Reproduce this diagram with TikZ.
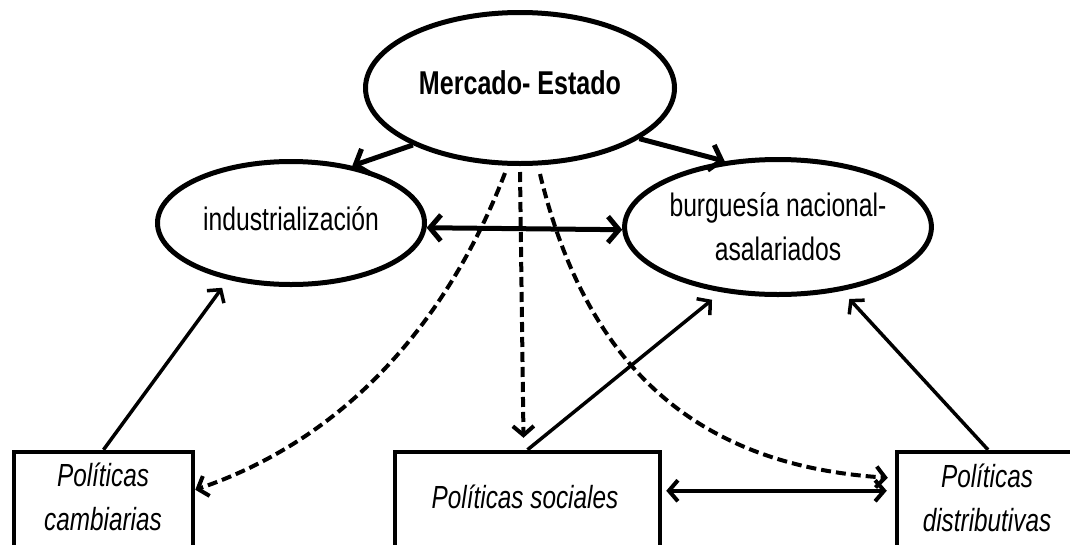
\documentclass[tikz,border=0pt]{standalone}
\usepackage{fontspec}
\setmainfont[FakeStretch=0.76]{Liberation Sans}
\usetikzlibrary{arrows.meta,shapes.geometric,calc}
\begin{document}
\begin{tikzpicture}[x=1pt,y=-1pt,
  bigbarb/.tip={Straight Barb[length=11pt,width=26pt]},
  smallbarb/.tip={Straight Barb[length=9pt,width=21pt]},
  oval/.style={ellipse, draw, line width=5pt, inner sep=0pt, align=center,
    font=\fontsize{32.5}{44}\selectfont},
  pbox/.style={rectangle, draw, line width=4.5pt, inner sep=0pt, minimum height=118pt},
  itxt/.style={inner sep=0pt, align=center, font=\itshape\fontsize{32}{44}\selectfont},
  thickarr/.style={line width=5pt, -bigbarb},
  thickdbl/.style={line width=5pt, bigbarb-bigbarb},
  thinarr/.style={line width=3.5pt, -smallbarb},
  thindbl/.style={line width=4pt, smallbarb-smallbarb},
  dasharr/.style={line width=4pt, dash pattern=on 10pt off 5pt, -smallbarb}
]
\useasboundingbox (0,0) rectangle (1070,544);
\clip (0,0) rectangle (1070,544);

% ellipses
\node[oval, minimum width=309pt, minimum height=151pt, text height=24pt, text depth=12pt,
      font=\bfseries\fontsize{33}{44}\selectfont] (ms) at (520,88) {Mercado- Estado};
\node[oval, minimum width=267pt, minimum height=123pt, text height=24pt, text depth=10pt]
      (ind) at (291,223) {industrialización};
\node[oval, minimum width=277pt, minimum height=135pt] (bur) at (778,227)
      {burguesía nacional-\\asalariados};

% boxes
\node[pbox, minimum width=179pt] (pc) at (103.5,511) {};
\node[pbox, minimum width=265pt] (ps) at (527.5,511) {};
\node[pbox, minimum width=196pt] (pd) at (995,511) {};
\node[itxt] (pct) at (103,497) {Políticas\\cambiarias};
\node[itxt, anchor=base] (pst) at (525,508) {Políticas sociales};
\node[itxt] (pdt) at (987,498) {Políticas\\distributivas};

% connectors
\draw[thickarr] (ms.208) -- (ind.43);
\draw[thickarr] (ms.337) -- (bur.129);
\draw[thickdbl] (ind.-2) -- (bur.181);

\draw[dasharr] ($(ms.south)+(-15,7)$) .. controls (460,290) and (370,430) .. ([yshift=-40pt]pc.north east);
\draw[dasharr] ($(ms.south)+(0,6)$) -- ([xshift=-4pt,yshift=12pt]ps.north);
\draw[dasharr] ($(ms.south)+(20,8)$) .. controls (585,360) and (690,465) .. ([xshift=-7pt,yshift=-28pt]pd.north west);

\draw[thinarr, shorten >=10pt] (pc.north) -- (ind.222);
\draw[thinarr, shorten >=12pt] (ps.north) -- (bur.229);
\draw[thinarr, shorten >=11pt] ([xshift=-7pt]pd.north) -- (bur.315);

\draw[thindbl, shorten <=4pt, shorten >=8pt] ([yshift=-41pt]ps.north east) -- ([yshift=-41pt]pd.north west);
\end{tikzpicture}
\end{document}
